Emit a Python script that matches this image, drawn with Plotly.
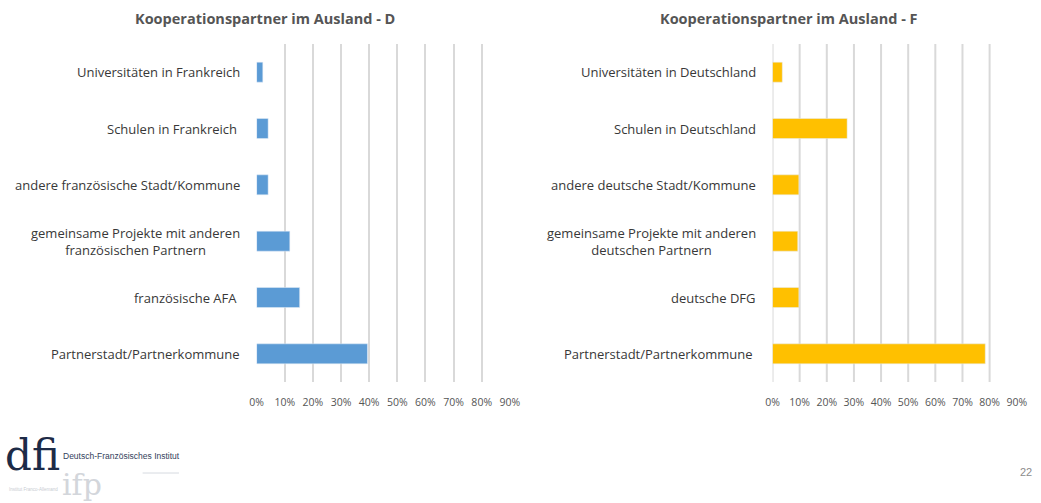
import plotly.graph_objects as go

W, H = 1041, 503

# Kooperationspartner der deutschen Seite (D)
cats_d = [
    "Universitäten in Frankreich",
    "Schulen in Frankreich\u00a0",
    "andere französische Stadt/Kommune",
    "gemeinsame Projekte mit anderen<br>französischen Partnern",
    "französische AFA\u00a0",
    "Partnerstadt/Partnerkommune",
]
vals_d = [0.022, 0.041, 0.041, 0.118, 0.153, 0.394]

# Kooperationspartner der französischen Seite (F)
cats_f = [
    "Universitäten in Deutschland",
    "Schulen in Deutschland",
    "andere deutsche Stadt/Kommune",
    "gemeinsame Projekte mit anderen<br>deutschen Partnern",
    "deutsche DFG",
    "Partnerstadt/Partnerkommune ",
]
vals_f = [0.036, 0.275, 0.097, 0.093, 0.097, 0.784]

pct_ticks = [0.0, 0.1, 0.2, 0.3, 0.4, 0.5, 0.6, 0.7, 0.8, 0.9]
grid_f = [0.0, 0.1, 0.2, 0.3, 0.4, 0.5, 0.6, 0.7, 0.8]

titles = ["Kooperationspartner im Ausland - D", "Kooperationspartner im Ausland - F"]

FONT = "Open Sans"
LABEL_COL = "#383838"
TICK_COL = "#555555"
GRID_COL = "#d9d9d9"

dom_d = [254 / W, 511.7 / W]
dom_f = [779 / W, 1027.5 / W]
dom_y = [1 - 382 / H, 1 - 44 / H]

fig = go.Figure()
fig.add_trace(go.Bar(x=vals_d, y=cats_d, orientation="h", marker_color="#5b9bd5",
                     xaxis="x", yaxis="y", hoverinfo="x+y"))
fig.add_trace(go.Bar(x=vals_f, y=cats_f, orientation="h", marker_color="#ffc000",
                     xaxis="x2", yaxis="y2", hoverinfo="x+y"))

xcommon = dict(range=[0, 0.9], tickvals=pct_ticks, tickformat=".0%",
               tickfont=dict(family=FONT, size=10.5, color=TICK_COL),
               zeroline=False, showline=False, ticks="", ticklabelstandoff=12,
               fixedrange=True)
ycommon = dict(type="category", autorange="reversed", showticklabels=False,
               showgrid=False, zeroline=False, showline=False, ticks="",
               domain=dom_y, fixedrange=True)

fig.update_layout(
    width=W, height=H,
    margin=dict(l=0, r=0, t=0, b=0),
    paper_bgcolor="white", plot_bgcolor="white",
    showlegend=False, bargap=0.645,
    xaxis=dict(domain=dom_d, anchor="y", showgrid=True, gridcolor=GRID_COL,
               gridwidth=2, **xcommon),
    yaxis=dict(anchor="x", categoryarray=cats_d, **ycommon),
    xaxis2=dict(domain=dom_f, anchor="y2", showgrid=False, **xcommon),
    yaxis2=dict(anchor="x2", categoryarray=cats_f, **ycommon),
)

# gridlines of the F panel stop at 80 %
for v in grid_f:
    fig.add_shape(type="line", xref="x2", yref="y2 domain", x0=v, x1=v, y0=0, y1=1,
                  line=dict(color=GRID_COL, width=2), layer="below")

# category labels, centred per line and right-aligned to the axis
for cats, yref, dom in [(cats_d, "y", dom_d), (cats_f, "y2", dom_f)]:
    for c in cats:
        fig.add_annotation(x=dom[0], xref="paper", y=c, yref=yref, text=c,
                           xanchor="right", yanchor="middle", align="center",
                           xshift=-15, showarrow=False,
                           font=dict(family=FONT, size=13, color=LABEL_COL))

# panel titles
for t, xc in zip(titles, [263, 796]):
    fig.add_annotation(x=xc / W, y=1 - 18 / H, xref="paper", yref="paper", text=f"<b>{t}</b>",
                       xanchor="center", yanchor="middle", showarrow=False,
                       font=dict(family=FONT, size=14.5, color=TICK_COL))

# institute logo
fig.add_annotation(x=-4 / W, y=1 - 455 / H, xref="paper", yref="paper", text="dfi",
                   xanchor="left", yanchor="middle", showarrow=False,
                   font=dict(family="DejaVu Serif", size=42, color="#1d2b47"))
fig.add_annotation(x=55 / W, y=1 - 456 / H, xref="paper", yref="paper",
                   text="Deutsch-Französisches Institut",
                   xanchor="left", yanchor="middle", showarrow=False,
                   font=dict(family="Liberation Sans", size=8.5, color="#33415c"))
fig.add_annotation(x=54 / W, y=1 - 484 / H, xref="paper", yref="paper", text="ifp",
                   xanchor="left", yanchor="middle", showarrow=False,
                   font=dict(family="DejaVu Serif", size=30, color="#d3d6db"))
fig.add_annotation(x=0, y=1 - 489 / H, xref="paper", yref="paper", text="Institut Franco-Allemand",
                   xanchor="left", yanchor="middle", showarrow=False,
                   font=dict(family="Liberation Sans", size=4.5, color="#c8ccd2"))
fig.add_shape(type="line", xref="paper", yref="paper", x0=138 / W, x1=175 / W,
              y0=1 - 473 / H, y1=1 - 473 / H, line=dict(color="#d6dae0", width=1))

# page number
fig.add_annotation(x=1029 / W, y=1 - 472 / H, xref="paper", yref="paper", text="22",
                   xanchor="left", yanchor="middle", showarrow=False,
                   font=dict(family="Liberation Sans", size=11, color="#8c8c8c"))

fig.write_html("out.html")
